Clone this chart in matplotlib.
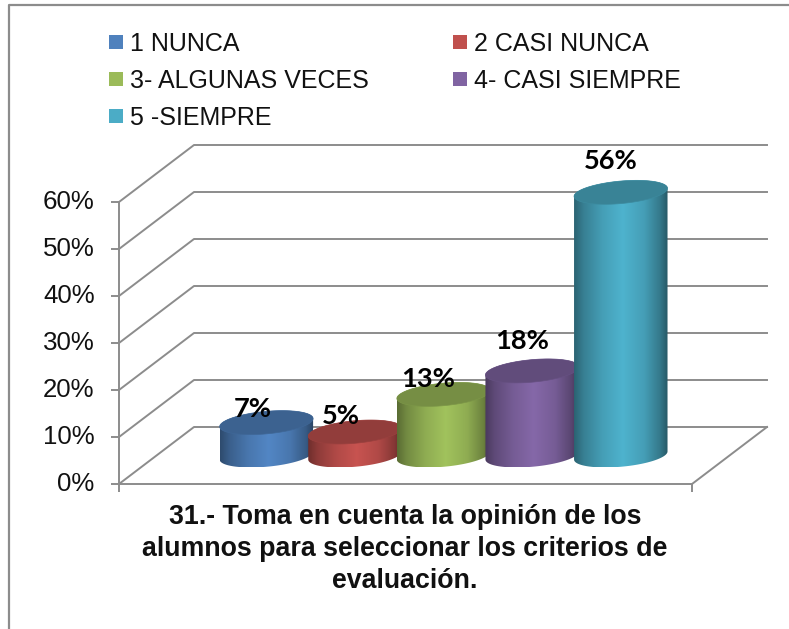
import numpy as np
import matplotlib
matplotlib.use('Agg')
import matplotlib.pyplot as plt
from matplotlib.lines import Line2D
from matplotlib.patches import Polygon, Rectangle

categories = ['1 NUNCA', '2 CASI NUNCA', '3- ALGUNAS VECES', '4- CASI SIEMPRE', '5 -SIEMPRE']
values = [0.07, 0.05, 0.13, 0.18, 0.56]
value_labels = ['7%', '5%', '13%', '18%', '56%']
colors = ['#4f81bd', '#c0504d', '#9bbb59', '#8064a2', '#4bacc6']
y_ticks = [0.0, 0.1, 0.2, 0.3, 0.4, 0.5, 0.6]
y_tick_labels = ['0%', '10%', '20%', '30%', '40%', '50%', '60%']
title_lines = ['31.- Toma en cuenta la opinión de los',
               'alumnos para seleccionar los criterios de',
               'evaluación.']

W, H = 789, 629
GREY = '#8c8c8c'
plt.rcParams['font.family'] = ['Liberation Sans', 'DejaVu Sans']

fig = plt.figure(figsize=(W / 100, H / 100), dpi=100)
ax = fig.add_axes([119 / W, 1 - 484 / H, (692 - 119) / W, 282 / H])
x_min, x_max = -1.24, 5.227
ax.set_xlim(x_min, x_max)
ax.set_ylim(0, 0.6)

# depth of the floor, in data units
x_unit = (692 - 119) / (x_max - x_min)
depth_x = 75 / x_unit
depth_y = 57 / 470

ax.set_yticks(y_ticks)
ax.set_yticklabels(y_tick_labels, fontsize=18.6, color='#111111', va='center')
ax.set_xticks([x_min, x_max])
ax.set_xticklabels([])
ax.tick_params(axis='both', length=5.5, width=1.4, color=GREY, pad=12)
ax.tick_params(axis='x', length=6)
for side in ['top', 'right']:
    ax.spines[side].set_visible(False)
for side in ['left', 'bottom']:
    ax.spines[side].set_color(GREY)
    ax.spines[side].set_linewidth(1.4)
ax.patch.set_alpha(0)

# back wall and side wall
for v in y_ticks:
    ax.plot([x_min, x_min + depth_x, x_max + depth_x], [v, v + depth_y, v + depth_y],
            color=GREY, lw=1.4, clip_on=False, zorder=1)
ax.plot([x_max, x_max + depth_x], [0, depth_y], color=GREY, lw=1.4, clip_on=False, zorder=1)


def ring(xc, v, t):
    half_w = 44 / x_unit
    z = 0.5 + 0.21 * np.sin(t)
    return np.column_stack([xc + half_w * np.cos(t) + depth_x * z, v + depth_y * z])


def draw_cylinder(xc, value, color, zorder):
    rgb = np.array(matplotlib.colors.to_rgb(color))
    t0 = np.arctan2(0.21 * depth_x, 44 / x_unit)
    upper = np.linspace(t0, t0 + np.pi, 80)
    lower = np.linspace(t0 + np.pi, t0 + 2 * np.pi, 80)
    outline = np.vstack([ring(xc, value, upper), ring(xc, 0, lower)])
    body = Polygon(outline, closed=True, fc='none', ec='none', transform=ax.transData)
    ax.add_patch(body)
    body.set_clip_on(False)

    # dark at both edges, bright in the middle
    u = np.linspace(0, 1, 120)
    shade = np.interp(u, [0, 0.1, 0.3, 0.52, 0.75, 0.92, 1], [0.58, 0.74, 0.92, 1.04, 0.92, 0.7, 0.52])
    img = np.clip(rgb[None, :] * shade[:, None], 0, 1)[None, :, :]
    im = ax.imshow(img, extent=[outline[:, 0].min(), outline[:, 0].max(), outline[:, 1].min(), outline[:, 1].max()],
                   aspect='auto', interpolation='bilinear', zorder=zorder)
    im.set_clip_box(fig.bbox)
    im.set_clip_path(body)

    cap = ring(xc, value, np.linspace(0, 2 * np.pi, 160))
    ax.add_patch(Polygon(cap, closed=True, fc=rgb * 0.76, ec=rgb * 0.8, lw=0.5, clip_on=False, zorder=zorder + 0.5))


x_pos = np.arange(len(values))
label_offsets = [(-14, 14), (-14, 16), (-15, 15), (-10, 30), (-10, 31)]
for i, (val, col) in enumerate(zip(values, colors)):
    draw_cylinder(x_pos[i], val, col, 3 + i)
for i, val in enumerate(values):
    ax.annotate(value_labels[i], (x_pos[i] + depth_x * 0.5, val + depth_y * 0.5),
                xytext=(label_offsets[i][0] * 0.72, label_offsets[i][1] * 0.72), textcoords='offset points',
                ha='center', va='center', fontsize=19.6, fontweight='bold', family=['Lato', 'DejaVu Sans'],
                color='black', zorder=20, annotation_clip=False)
ax.set_xlim(x_min, x_max)
ax.set_ylim(0, 0.6)

# legend laid out row by row, two columns
col_x = [109, 453]
row_y = [43, 80, 117]
for i, name in enumerate(categories):
    px, py = col_x[i % 2], row_y[i // 2]
    fig.add_artist(Rectangle((px / W, 1 - (py + 6) / H), 14 / W, 14 / H, fc=colors[i], ec='none',
                             transform=fig.transFigure))
    fig.text((px + 21) / W, 1 - (py + 1) / H, name, fontsize=18, color='#111111', va='center', ha='left')

# title below the axis
for line, py in zip(title_lines, [517, 549, 581]):
    fig.text(405 / W, 1 - py / H, line, fontsize=19.3, fontweight='bold', ha='center', va='center', color='#111111')

# outer frame, only left and top fall inside the picture
fig.add_artist(Line2D([9 / W, 9 / W, 1], [0, 1 - 5 / H, 1 - 5 / H], color=GREY, lw=1.6, transform=fig.transFigure))

fig.savefig('out.png', dpi=100, facecolor='white')
